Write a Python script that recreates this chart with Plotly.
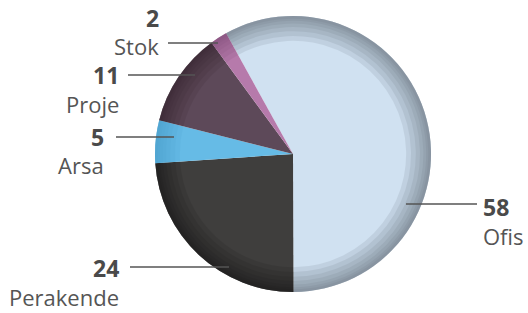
import plotly.graph_objects as go

categories = ["Ofis", "Perakende", "Arsa", "Proje", "Stok"]
values = [58, 24, 5, 11, 2]

colors = ["#d0e1f1", "#3f3e3d", "#66bbe6", "#5d4959", "#b67aab"]
rim_colors = ["#66717c", "#1a1a1a", "#4a9fcc", "#35252f", "#7e4c76"]

W, H = 528, 313
cx, cy, R = 293, 154, 138

# label layout (pixels): (text x, number y, name y, anchor, line x0, line x1, line y)
label_layout = {
    "Stok":      (161, 18, 46, "right", 168, 218, 43),
    "Proje":     (121, 75, 104, "right", 128, 195, 75),
    "Arsa":      (106, 137, 165, "right", 116, 174, 137),
    "Perakende": (121, 268, 297, "right", 130, 229, 267),
    "Ofis":      (481, 207, 236, "left", 406, 477, 204),
}

def px(x):
    return x / W

def py(y):
    return 1 - y / H

dom_x = [px(cx - R), px(cx + R)]
dom_y = [py(cy + R), py(cy - R)]

fig = go.Figure()
fig.add_trace(go.Pie(
    labels=categories, values=values, sort=False, direction="clockwise",
    rotation=-29, marker=dict(colors=colors, line=dict(width=0)),
    textinfo="none", hoverinfo="label+value", domain=dict(x=dom_x, y=dom_y),
    showlegend=False,
))
# soft darker rim rings to mimic the shaded edge
for hole in [0.82, 0.855, 0.89, 0.92, 0.945, 0.965, 0.98]:
    fig.add_trace(go.Pie(
        labels=categories, values=values, sort=False, direction="clockwise",
        rotation=-29, hole=hole, opacity=0.14,
        marker=dict(colors=rim_colors, line=dict(width=0)),
        textinfo="none", hoverinfo="skip", domain=dict(x=dom_x, y=dom_y),
        showlegend=False,
    ))

annotations = []
shapes = []
font_family = "Open Sans, Noto Sans, sans-serif"
for cat, val in zip(categories, values):
    tx, ny, nmy, anchor, lx0, lx1, ly = label_layout[cat]
    annotations.append(dict(
        x=px(tx), y=py(ny), xref="paper", yref="paper", text=f"<b>{val}</b>",
        showarrow=False, xanchor=anchor, yanchor="middle",
        font=dict(family=font_family, size=23, color="#4a4a4a"),
    ))
    annotations.append(dict(
        x=px(tx), y=py(nmy), xref="paper", yref="paper", text=cat,
        showarrow=False, xanchor=anchor, yanchor="middle",
        font=dict(family=font_family, size=22, color="#555555"),
    ))
    shapes.append(dict(
        type="line", xref="paper", yref="paper",
        x0=px(lx0), x1=px(lx1), y0=py(ly), y1=py(ly),
        line=dict(color="#555555", width=1.5),
    ))

fig.update_layout(
    width=W, height=H, margin=dict(l=0, r=0, t=0, b=0),
    paper_bgcolor="white", plot_bgcolor="white",
    annotations=annotations, shapes=shapes,
)
fig.write_html("out.html", config={"displayModeBar": False},
               post_script="document.body.style.margin='0px';")
